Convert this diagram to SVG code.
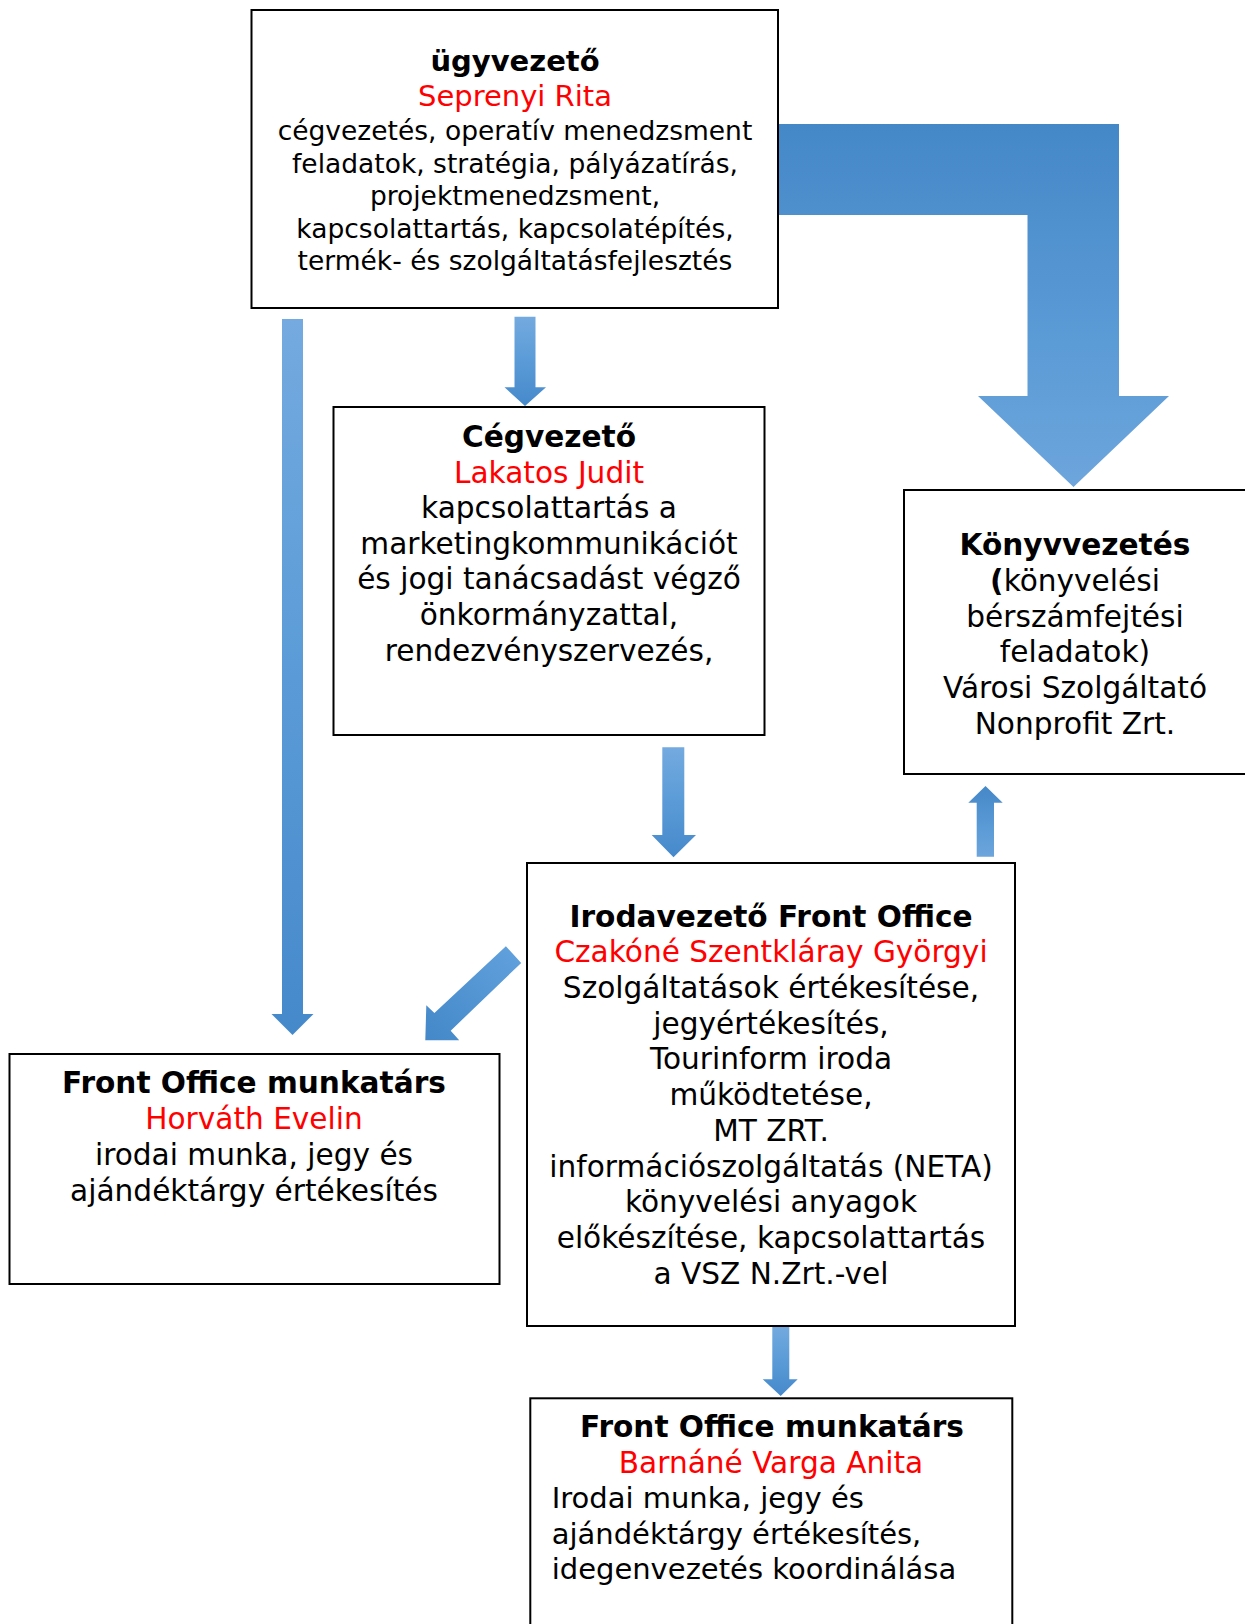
<svg xmlns="http://www.w3.org/2000/svg" width="1245" height="1624" viewBox="0 0 1245 1624">
<style>
.box{fill:#fff;stroke:#000;stroke-width:2}
text{font-family:'DejaVu Sans',Verdana,sans-serif;fill:#000;text-anchor:middle}
.s{font-size:26.5px}
.t{font-size:29px}
.m{font-size:29.6px}
.b{font-weight:bold}
.r{fill:#ff0000}
.l{text-anchor:start;font-size:29px}
</style>
<defs>
<linearGradient id="gDown" x1="0" y1="0" x2="0" y2="1">
<stop offset="0" stop-color="#74aadf"/>
<stop offset="0.5" stop-color="#5a9bd7"/>
<stop offset="1" stop-color="#4689cb"/>
</linearGradient>
<linearGradient id="gUp" x1="0" y1="0" x2="0" y2="1">
<stop offset="0" stop-color="#4588c8"/>
<stop offset="0.6" stop-color="#5b9bd6"/>
<stop offset="1" stop-color="#6da5dc"/>
</linearGradient>
<linearGradient id="gDiag" x1="1" y1="0" x2="0" y2="1">
<stop offset="0" stop-color="#62a2dd"/>
<stop offset="1" stop-color="#4488c9"/>
</linearGradient>
</defs>
<g id="connectors">
<polygon fill="url(#gUp)" points="778,124 1119,124 1119,396 1169,396 1073.5,487 978,396 1027.5,396 1027.5,215 778,215"/>
<polygon fill="url(#gDown)" points="282,319 303,319 303,1014 313.5,1014 292.5,1035 271.5,1014 282,1014"/>
<polygon fill="url(#gDown)" points="514.5,316.7 535.5,316.7 535.5,387.3 546,387.3 525,406 504.5,387.3 514.5,387.3"/>
<polygon fill="url(#gDown)" points="662.3,747.3 684.3,747.3 684.3,835 696,835 673.5,857.3 651.7,835 662.3,835"/>
<polygon fill="url(#gUp)" points="976.7,856.7 994,856.7 994,802.7 1002.7,802.7 985.5,786 968.3,802.7 976.7,802.7"/>
<polygon fill="url(#gDown)" points="772.3,1326 789.3,1326 789.3,1379.3 797.7,1379.3 780.7,1396 762.7,1379.3 772.3,1379.3"/>
<polygon fill="url(#gDiag)" points="505.9,946.3 521.2,962.9 450.7,1030.7 459.2,1040.2 425.3,1040.2 426.3,1005.3 434.4,1013"/>
</g>
<g id="ugyvezeto">
<rect class="box" x="251.5" y="10" width="526.5" height="298"/>
<text class="t b" x="515" y="70.5">ügyvezető</text>
<text class="t r" x="515" y="106">Seprenyi Rita</text>
<text class="s" x="515" y="140">cégvezetés, operatív menedzsment</text>
<text class="s" x="515" y="172.5">feladatok, stratégia, pályázatírás,</text>
<text class="s" x="515" y="205">projektmenedzsment,</text>
<text class="s" x="515" y="237.5">kapcsolattartás, kapcsolatépítés,</text>
<text class="s" x="515" y="270">termék- és szolgáltatásfejlesztés</text>
</g>
<g id="cegvezeto">
<rect class="box" x="333.5" y="407" width="431" height="328"/>
<text class="m b" x="549" y="446.7">Cégvezető</text>
<text class="m r" x="549" y="482.7">Lakatos Judit</text>
<text class="m" x="549" y="518">kapcsolattartás a</text>
<text class="m" x="549" y="554">marketingkommunikációt</text>
<text class="m" x="549" y="589">és jogi tanácsadást végző</text>
<text class="m" x="549" y="625">önkormányzattal,</text>
<text class="m" x="549" y="660.7">rendezvényszervezés,</text>
</g>
<g id="konyvvezetes">
<rect class="box" x="904" y="490" width="350" height="284"/>
<text class="m b" x="1075" y="555">Könyvvezetés</text>
<text class="m" x="1075" y="590.5"><tspan class="b">(</tspan>könyvelési</text>
<text class="m" x="1075" y="626.5">bérszámfejtési</text>
<text class="m" x="1075" y="662">feladatok)</text>
<text class="m" x="1075" y="697.5">Városi Szolgáltató</text>
<text class="m" x="1075" y="733.5">Nonprofit Zrt.</text>
</g>
<g id="irodavezeto">
<rect class="box" x="527" y="863" width="488" height="463"/>
<text class="m b" x="771" y="927">Irodavezető Front Office</text>
<text class="m r" x="771" y="962">Czakóné Szentkláray Györgyi</text>
<text class="m" x="771" y="998">Szolgáltatások értékesítése,</text>
<text class="m" x="771" y="1033.5">jegyértékesítés,</text>
<text class="m" x="771" y="1069">Tourinform iroda</text>
<text class="m" x="771" y="1105">működtetése,</text>
<text class="m" x="771" y="1140.7">MT ZRT.</text>
<text class="m" x="771" y="1176.7">információszolgáltatás (NETA)</text>
<text class="m" x="771" y="1212">könyvelési anyagok</text>
<text class="m" x="771" y="1248">előkészítése, kapcsolattartás</text>
<text class="m" x="771" y="1283.5">a VSZ N.Zrt.-vel</text>
</g>
<g id="frontoffice1">
<rect class="box" x="9.5" y="1054" width="490" height="230"/>
<text class="m b" x="254" y="1093.3">Front Office munkatárs</text>
<text class="m r" x="254" y="1129.3">Horváth Evelin</text>
<text class="m" x="254" y="1165">irodai munka, jegy és</text>
<text class="m" x="254" y="1201">ajándéktárgy értékesítés</text>
</g>
<g id="frontoffice2">
<rect class="box" x="530.3" y="1398.3" width="482" height="240"/>
<text class="m b" x="772" y="1436.7">Front Office munkatárs</text>
<text class="m r" x="771" y="1472.7">Barnáné Varga Anita</text>
<text class="l" x="551.7" y="1508.3">Irodai munka, jegy és</text>
<text class="l" x="551.7" y="1544">ajándéktárgy értékesítés,</text>
<text class="l" x="551.7" y="1579.3">idegenvezetés koordinálása</text>
</g>
</svg>
